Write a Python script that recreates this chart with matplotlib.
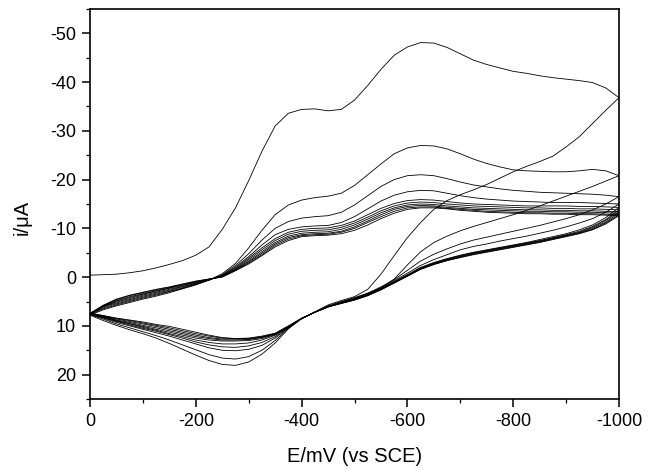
"""Cyclic voltammogram, repeated scans 0 -> -1000 -> 0 mV (vs SCE)."""
import matplotlib
matplotlib.use("Agg")
import matplotlib.pyplot as plt
from matplotlib.ticker import MultipleLocator
import numpy as np

# potential grid (mV), shared by every half-scan: 0, -25, ..., -1000
E = [0, -25, -50, -75, -100, -125, -150, -175, -200, -225,
     -250, -275, -300, -325, -350, -375, -400, -425, -450, -475,
     -500, -525, -550, -575, -600, -625, -650, -675, -700, -725,
     -750, -775, -800, -825, -850, -875, -900, -925, -950, -975, -1000]

# forward (cathodic) half-scans, current in uA, one list per cycle
fwd_1 = [-0.4, -0.5, -0.6, -0.9, -1.3, -1.9, -2.6, -3.4, -4.5, -6.2,
         -9.8, -14.2, -19.8, -25.8, -31.0, -33.6, -34.4, -34.5, -34.1, -34.4,
         -36.3, -39.3, -42.6, -45.5, -47.2, -48.1, -48.0, -47.1, -45.8, -44.5,
         -43.6, -42.9, -42.2, -41.8, -41.3, -40.9, -40.6, -40.3, -39.9, -38.8, -36.8]
fwd_2 = [7.8, 6.7, 5.9, 5.2, 4.5, 3.9, 3.2, 2.4, 1.6, 0.6,
         -0.7, -2.8, -6.0, -9.6, -12.8, -14.8, -15.8, -16.3, -16.6, -17.2,
         -18.8, -21.0, -23.2, -25.3, -26.5, -27.0, -26.9, -26.3, -25.3, -24.2,
         -23.3, -22.6, -22.0, -21.8, -21.7, -21.6, -21.6, -21.8, -22.1, -21.8, -20.8]
fwd_3 = [7.7, 6.5, 5.7, 5.0, 4.3, 3.7, 3.0, 2.3, 1.5, 0.6,
         -0.5, -2.4, -4.8, -7.6, -10.0, -11.4, -12.1, -12.4, -12.6, -13.3,
         -14.8, -16.7, -18.6, -20.0, -20.8, -21.0, -20.8, -20.2, -19.5, -18.9,
         -18.5, -18.1, -17.8, -17.6, -17.4, -17.3, -17.2, -17.1, -17.0, -16.8, -16.5]
fwd_4 = [7.6, 6.3, 5.5, 4.8, 4.1, 3.5, 2.9, 2.2, 1.4, 0.6,
         -0.4, -2.1, -4.2, -6.6, -8.7, -9.8, -10.3, -10.5, -10.6, -11.2,
         -12.4, -14.0, -15.6, -16.8, -17.5, -17.8, -17.7, -17.2, -16.7, -16.3,
         -16.0, -15.8, -15.6, -15.5, -15.4, -15.3, -15.3, -15.3, -15.2, -15.1, -15.0]
fwd_5 = [7.6, 6.1, 5.3, 4.6, 3.9, 3.3, 2.7, 2.0, 1.3, 0.6,
         -0.3, -1.9, -3.9, -6.0, -7.9, -9.2, -9.8, -10.0, -10.1, -10.6,
         -11.5, -12.8, -14.1, -15.1, -15.7, -15.9, -15.8, -15.5, -15.2, -15.0,
         -14.9, -14.8, -14.7, -14.6, -14.6, -14.6, -14.6, -14.5, -14.5, -14.4, -14.3]
fwd_6 = [7.5, 6.0, 5.1, 4.4, 3.7, 3.1, 2.5, 1.9, 1.2, 0.5,
         -0.2, -1.7, -3.6, -5.6, -7.5, -8.8, -9.4, -9.6, -9.7, -10.2,
         -11.1, -12.3, -13.6, -14.6, -15.2, -15.4, -15.3, -15.0, -14.8, -14.6,
         -14.5, -14.4, -14.3, -14.2, -14.2, -14.1, -14.1, -14.0, -14.0, -13.9, -13.8]
fwd_7 = [7.5, 6.0, 4.9, 4.2, 3.5, 2.9, 2.3, 1.7, 1.1, 0.5,
         -0.2, -1.6, -3.3, -5.2, -7.1, -8.4, -9.0, -9.2, -9.3, -9.8,
         -10.7, -11.9, -13.2, -14.2, -14.8, -15.0, -14.9, -14.6, -14.4, -14.2,
         -14.1, -14.0, -13.9, -13.8, -13.8, -13.7, -13.7, -13.6, -13.6, -13.5, -13.4]
fwd_8 = [7.5, 5.9, 4.8, 4.0, 3.4, 2.8, 2.2, 1.6, 1.0, 0.4,
         -0.1, -1.5, -3.1, -4.9, -6.8, -8.1, -8.7, -8.9, -9.0, -9.4,
         -10.3, -11.5, -12.8, -13.9, -14.5, -14.7, -14.6, -14.3, -14.1, -13.9,
         -13.8, -13.7, -13.6, -13.5, -13.5, -13.4, -13.4, -13.3, -13.3, -13.2, -13.1]
fwd_9 = [7.5, 5.8, 4.6, 3.8, 3.2, 2.6, 2.1, 1.5, 0.9, 0.4,
         -0.1, -1.4, -2.9, -4.6, -6.5, -7.8, -8.5, -8.7, -8.8, -9.2,
         -10.0, -11.2, -12.4, -13.5, -14.2, -14.4, -14.4, -14.1, -13.9, -13.7,
         -13.5, -13.4, -13.3, -13.2, -13.2, -13.1, -13.1, -13.0, -13.0, -12.9, -12.8]
fwd_10 = [7.4, 5.8, 4.5, 3.7, 3.1, 2.5, 2.0, 1.4, 0.8, 0.4,
          0.0, -1.3, -2.7, -4.4, -6.2, -7.5, -8.3, -8.5, -8.6, -8.9,
          -9.6, -10.7, -12.0, -13.1, -13.9, -14.2, -14.2, -14.0, -13.7, -13.5,
          -13.3, -13.2, -13.1, -13.0, -13.0, -12.9, -12.9, -12.8, -12.8, -12.7, -12.6]

# reverse (anodic) half-scans, listed on the same grid (0 ... -1000)
rev_1 = [7.8, 8.9, 9.9, 10.8, 11.6, 12.5, 13.6, 14.8, 16.0, 17.1,
         17.9, 18.1, 17.4, 15.8, 13.5, 10.6, 8.5, 7.1, 5.7, 4.8,
         4.0, 2.5, -0.6, -4.4, -8.1, -11.2, -13.9, -15.7, -16.9, -17.9,
         -19.0, -20.3, -21.6, -22.7, -23.7, -24.8, -26.7, -28.8, -31.5, -34.2, -36.8]
rev_2 = [7.7, 8.6, 9.6, 10.4, 11.2, 12.0, 12.9, 13.9, 14.9, 15.9,
         16.6, 16.8, 16.3, 15.0, 13.0, 10.5, 8.5, 7.2, 5.9, 5.0,
         4.2, 3.3, 2.2, 0.4, -2.5, -5.2, -7.1, -8.4, -9.5, -10.4,
         -11.2, -12.0, -12.8, -13.7, -14.6, -15.6, -16.6, -17.6, -18.6, -19.7, -20.8]
rev_3 = [7.6, 8.4, 9.3, 10.0, 10.7, 11.4, 12.1, 12.9, 13.7, 14.5,
         15.0, 15.1, 14.8, 14.0, 12.5, 10.4, 8.5, 7.2, 6.0, 5.1,
         4.3, 3.3, 2.0, 0.5, -1.4, -3.3, -4.7, -5.8, -6.8, -7.6,
         -8.2, -8.8, -9.4, -10.0, -10.6, -11.3, -12.0, -12.8, -13.8, -15.0, -16.5]
rev_4 = [7.6, 8.3, 9.1, 9.8, 10.5, 11.1, 11.8, 12.5, 13.3, 13.9,
         14.3, 14.4, 14.1, 13.4, 12.2, 10.3, 8.5, 7.2, 6.0, 5.2,
         4.4, 3.4, 2.2, 0.7, -0.8, -2.4, -3.6, -4.6, -5.6, -6.3,
         -6.8, -7.4, -7.9, -8.4, -9.0, -9.6, -10.3, -11.1, -12.0, -13.3, -15.0]
rev_5 = [7.5, 8.2, 9.0, 9.6, 10.3, 10.9, 11.6, 12.2, 12.9, 13.4,
         13.7, 13.7, 13.5, 12.9, 11.9, 10.3, 8.5, 7.2, 6.1, 5.3,
         4.5, 3.5, 2.3, 0.9, -0.5, -2.0, -3.0, -3.8, -4.5, -5.1,
         -5.6, -6.1, -6.6, -7.1, -7.7, -8.3, -8.9, -9.7, -10.7, -12.2, -14.3]
rev_6 = [7.5, 8.1, 8.9, 9.5, 10.1, 10.7, 11.3, 11.9, 12.5, 12.9,
         13.1, 13.1, 13.0, 12.6, 11.8, 10.2, 8.5, 7.2, 6.1, 5.3,
         4.5, 3.6, 2.4, 1.0, -0.4, -1.9, -2.9, -3.7, -4.4, -5.0,
         -5.5, -6.0, -6.5, -7.0, -7.5, -8.1, -8.7, -9.4, -10.4, -11.8, -13.8]
rev_7 = [7.5, 8.1, 8.8, 9.3, 9.9, 10.4, 11.0, 11.6, 12.2, 12.6,
         12.9, 12.9, 12.8, 12.4, 11.7, 10.2, 8.5, 7.2, 6.1, 5.3,
         4.6, 3.7, 2.5, 1.1, -0.3, -1.8, -2.8, -3.6, -4.3, -4.9,
         -5.4, -5.9, -6.4, -6.9, -7.4, -8.0, -8.6, -9.2, -10.2, -11.6, -13.4]
rev_8 = [7.5, 8.0, 8.6, 9.1, 9.6, 10.1, 10.7, 11.3, 11.9, 12.4,
         12.7, 12.7, 12.7, 12.3, 11.6, 10.1, 8.5, 7.2, 6.1, 5.3,
         4.6, 3.7, 2.5, 1.1, -0.3, -1.7, -2.7, -3.5, -4.2, -4.8,
         -5.3, -5.8, -6.3, -6.8, -7.3, -7.9, -8.5, -9.1, -10.0, -11.3, -13.1]
rev_9 = [7.4, 7.9, 8.5, 8.9, 9.4, 9.9, 10.4, 11.0, 11.6, 12.1,
         12.5, 12.6, 12.6, 12.2, 11.6, 10.1, 8.5, 7.2, 6.1, 5.4,
         4.7, 3.8, 2.6, 1.2, -0.2, -1.6, -2.6, -3.4, -4.1, -4.7,
         -5.2, -5.7, -6.2, -6.7, -7.2, -7.8, -8.4, -9.0, -9.8, -11.1, -12.8]
rev_10 = [7.4, 7.9, 8.4, 8.8, 9.2, 9.7, 10.1, 10.7, 11.3, 11.9,
          12.4, 12.6, 12.5, 12.1, 11.5, 10.0, 8.4, 7.2, 6.1, 5.4,
          4.7, 3.8, 2.6, 1.2, -0.2, -1.6, -2.6, -3.4, -4.0, -4.6,
          -5.1, -5.6, -6.1, -6.6, -7.1, -7.7, -8.3, -8.9, -9.7, -10.9, -12.6]

forward = [fwd_1, fwd_2, fwd_3, fwd_4, fwd_5, fwd_6, fwd_7, fwd_8, fwd_9, fwd_10]
reverse = [rev_1, rev_2, rev_3, rev_4, rev_5, rev_6, rev_7, rev_8, rev_9, rev_10]

x_ticks = [0, -200, -400, -600, -800, -1000]
y_ticks = [-50, -40, -30, -20, -10, 0, 10, 20]

plt.rcParams.update({
    "font.family": ["Liberation Sans", "DejaVu Sans"],
    "font.size": 13,
    "axes.linewidth": 1.2,
    "axes.unicode_minus": False,   # plain hyphens, as in the original
})

fig = plt.figure(figsize=(6.59, 4.70), dpi=100)
ax = fig.add_axes([0.1366, 0.151, 0.8027, 0.830])

E_arr = np.array(E)
for f, r in zip(forward, reverse):
    assert len(f) == len(E) and len(r) == len(E)
    # one closed loop per cycle: out along the forward scan, back along the reverse
    xs = np.concatenate([E_arr, E_arr[::-1]])
    ys = np.concatenate([f, r[::-1]])
    ax.plot(xs, ys, color="black", linewidth=0.6)

ax.set_xlim(0, -1000)
ax.set_ylim(25, -55)
ax.set_xticks(x_ticks)
ax.set_yticks(y_ticks)
ax.xaxis.set_minor_locator(MultipleLocator(100))
ax.yaxis.set_minor_locator(MultipleLocator(5))
ax.tick_params(which="major", direction="out", length=6, width=1.1,
               top=False, right=False, labelsize=13, pad=4)
ax.tick_params(which="minor", direction="out", length=3, width=0.9,
               top=False, right=False)

ax.set_xlabel("E/mV (vs SCE)", fontsize=14.5)
ax.set_ylabel("i/\u03bcA", fontsize=14.5)
ax.xaxis.set_label_coords(0.5, -0.123)
ax.yaxis.set_label_coords(-0.110, 0.465)

fig.savefig("out.png", dpi=100)
plt.close(fig)
